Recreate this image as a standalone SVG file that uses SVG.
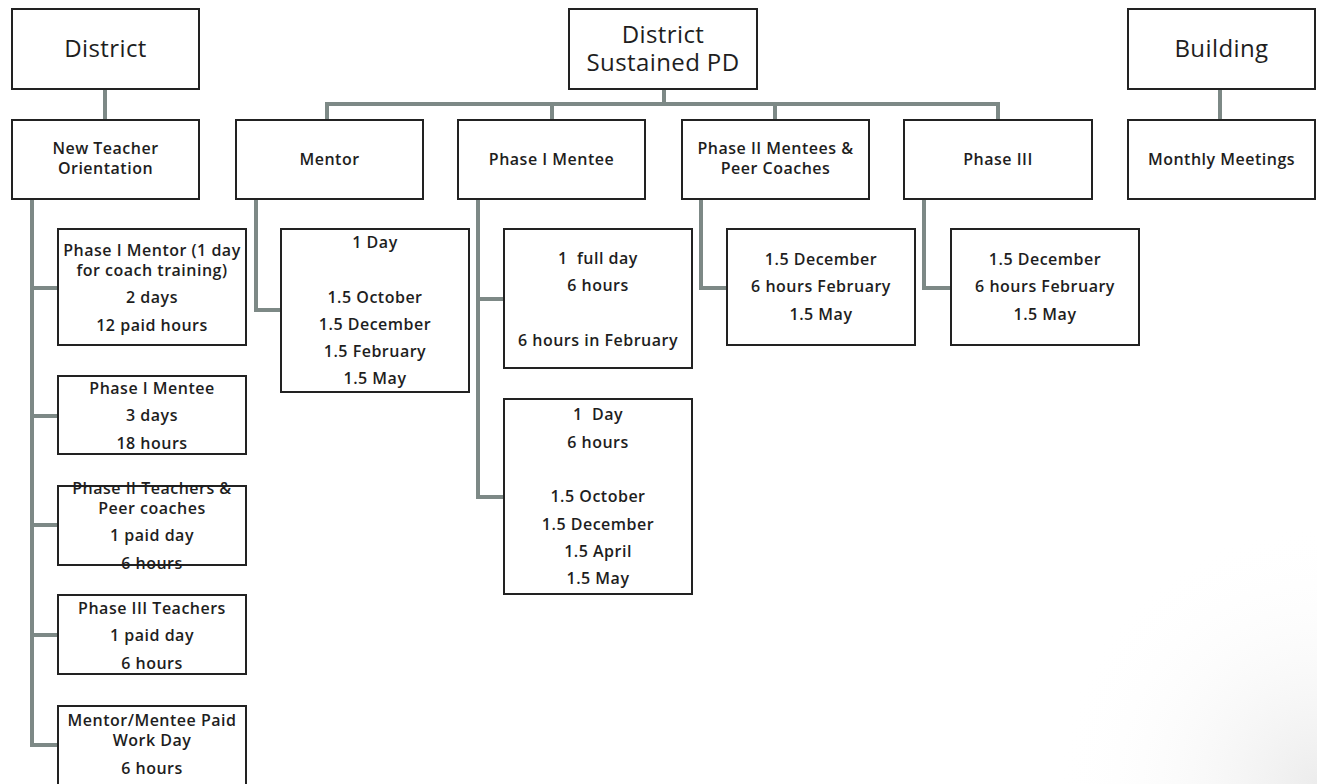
<svg xmlns="http://www.w3.org/2000/svg" width="1317" height="784" viewBox="0 0 1317 784">
<style>
.box{fill:#ffffff;stroke:#222222;stroke-width:2}
.con{fill:none;stroke:#7d8986;stroke-width:4;stroke-linejoin:miter}
text{font-family:"Open Sans","Noto Sans",sans-serif;fill:#1e1e1e;text-anchor:middle}
.big{font-size:24px;font-weight:400;letter-spacing:0.4px}
.sm{font-size:16px;font-weight:600;letter-spacing:0.5px}
</style>
<defs>
<radialGradient id="shade" cx="1317" cy="784" r="260" gradientUnits="userSpaceOnUse">
<stop offset="0" stop-color="#ececec"/>
<stop offset="1" stop-color="#ffffff" stop-opacity="0"/>
</radialGradient>
</defs>
<rect width="1317" height="784" fill="#ffffff"/>
<rect x="1057" y="524" width="260" height="260" fill="url(#shade)"/>
<g id="connectors">
<path class="con" d="M105 89V120"/>
<path class="con" d="M664 89V104"/>
<path class="con" d="M327 120V104H998V120"/>
<path class="con" d="M552 104V120"/>
<path class="con" d="M775 104V120"/>
<path class="con" d="M1220 89V120"/>
<path class="con" d="M32 199V745H58"/>
<path class="con" d="M32 288H58"/>
<path class="con" d="M32 416H58"/>
<path class="con" d="M32 525H58"/>
<path class="con" d="M32 635H58"/>
<path class="con" d="M256 199V310H281"/>
<path class="con" d="M478 199V497H504"/>
<path class="con" d="M478 299H504"/>
<path class="con" d="M701 199V288H727"/>
<path class="con" d="M924 199V288H951"/>
</g>
<g id="district">
<rect class="box" x="12" y="9" width="187" height="80"/>
<text class="big" x="105.5" y="57">District</text>
</g>
<g id="sustained">
<rect class="box" x="569" y="9" width="188" height="80"/>
<text class="big"><tspan x="663" y="43">District</tspan><tspan x="663" y="71">Sustained PD</tspan></text>
</g>
<g id="building">
<rect class="box" x="1128" y="9" width="187" height="80"/>
<text class="big" x="1221.5" y="57">Building</text>
</g>
<g id="nto">
<rect class="box" x="12" y="120" width="187" height="79"/>
<text class="sm"><tspan x="105.5" y="154">New Teacher</tspan><tspan x="105.5" y="174">Orientation</tspan></text>
</g>
<g id="mentor">
<rect class="box" x="236" y="120" width="187" height="79"/>
<text class="sm" x="329.5" y="165">Mentor</text>
</g>
<g id="phase1mentee">
<rect class="box" x="458" y="120" width="187" height="79"/>
<text class="sm" x="551.5" y="165">Phase I Mentee</text>
</g>
<g id="phase2mentees">
<rect class="box" x="682" y="120" width="187" height="79"/>
<text class="sm"><tspan x="775.5" y="154">Phase II Mentees &amp;</tspan><tspan x="775.5" y="174">Peer Coaches</tspan></text>
</g>
<g id="phase3">
<rect class="box" x="904" y="120" width="188" height="79"/>
<text class="sm" x="998" y="165">Phase III</text>
</g>
<g id="monthly">
<rect class="box" x="1128" y="120" width="187" height="79"/>
<text class="sm" x="1221.5" y="165">Monthly Meetings</text>
</g>
<g id="nto-phase1mentor">
<rect class="box" x="58" y="229" width="188" height="116"/>
<text class="sm"><tspan x="152" y="256">Phase I Mentor (1 day</tspan><tspan x="152" y="276">for coach training)</tspan><tspan x="152" y="303">2 days</tspan><tspan x="152" y="331">12 paid hours</tspan></text>
</g>
<g id="nto-phase1mentee">
<rect class="box" x="58" y="376" width="188" height="78"/>
<text class="sm"><tspan x="152" y="394">Phase I Mentee</tspan><tspan x="152" y="421">3 days</tspan><tspan x="152" y="449">18 hours</tspan></text>
</g>
<g id="nto-phase2">
<rect class="box" x="58" y="486" width="188" height="79"/>
<text class="sm"><tspan x="152" y="494">Phase II Teachers &amp;</tspan><tspan x="152" y="514">Peer coaches</tspan><tspan x="152" y="541">1 paid day</tspan><tspan x="152" y="569">6 hours</tspan></text>
</g>
<g id="nto-phase3">
<rect class="box" x="58" y="595" width="188" height="79"/>
<text class="sm"><tspan x="152" y="614">Phase III Teachers</tspan><tspan x="152" y="641">1 paid day</tspan><tspan x="152" y="669">6 hours</tspan></text>
</g>
<g id="nto-workday">
<rect class="box" x="58" y="706" width="188" height="90"/>
<text class="sm"><tspan x="152" y="726">Mentor/Mentee Paid</tspan><tspan x="152" y="746">Work Day</tspan><tspan x="152" y="774">6 hours</tspan></text>
</g>
<g id="mentor-detail">
<rect class="box" x="281" y="229" width="188" height="163"/>
<text class="sm"><tspan x="375" y="248">1 Day</tspan><tspan x="375" y="303">1.5 October</tspan><tspan x="375" y="330">1.5 December</tspan><tspan x="375" y="357">1.5 February</tspan><tspan x="375" y="384">1.5 May</tspan></text>
</g>
<g id="mentee-detail-a">
<rect class="box" x="504" y="229" width="188" height="139"/>
<text class="sm" xml:space="preserve"><tspan x="598" y="264">1  full day</tspan><tspan x="598" y="291">6 hours</tspan><tspan x="598" y="346">6 hours in February</tspan></text>
</g>
<g id="mentee-detail-b">
<rect class="box" x="504" y="399" width="188" height="195"/>
<text class="sm" xml:space="preserve"><tspan x="598" y="420">1  Day</tspan><tspan x="598" y="448">6 hours</tspan><tspan x="598" y="502">1.5 October</tspan><tspan x="598" y="530">1.5 December</tspan><tspan x="598" y="557">1.5 April</tspan><tspan x="598" y="584">1.5 May</tspan></text>
</g>
<g id="phase2-detail">
<rect class="box" x="727" y="229" width="188" height="116"/>
<text class="sm"><tspan x="821" y="265">1.5 December</tspan><tspan x="821" y="292">6 hours February</tspan><tspan x="821" y="320">1.5 May</tspan></text>
</g>
<g id="phase3-detail">
<rect class="box" x="951" y="229" width="188" height="116"/>
<text class="sm"><tspan x="1045" y="265">1.5 December</tspan><tspan x="1045" y="292">6 hours February</tspan><tspan x="1045" y="320">1.5 May</tspan></text>
</g>
</svg>
